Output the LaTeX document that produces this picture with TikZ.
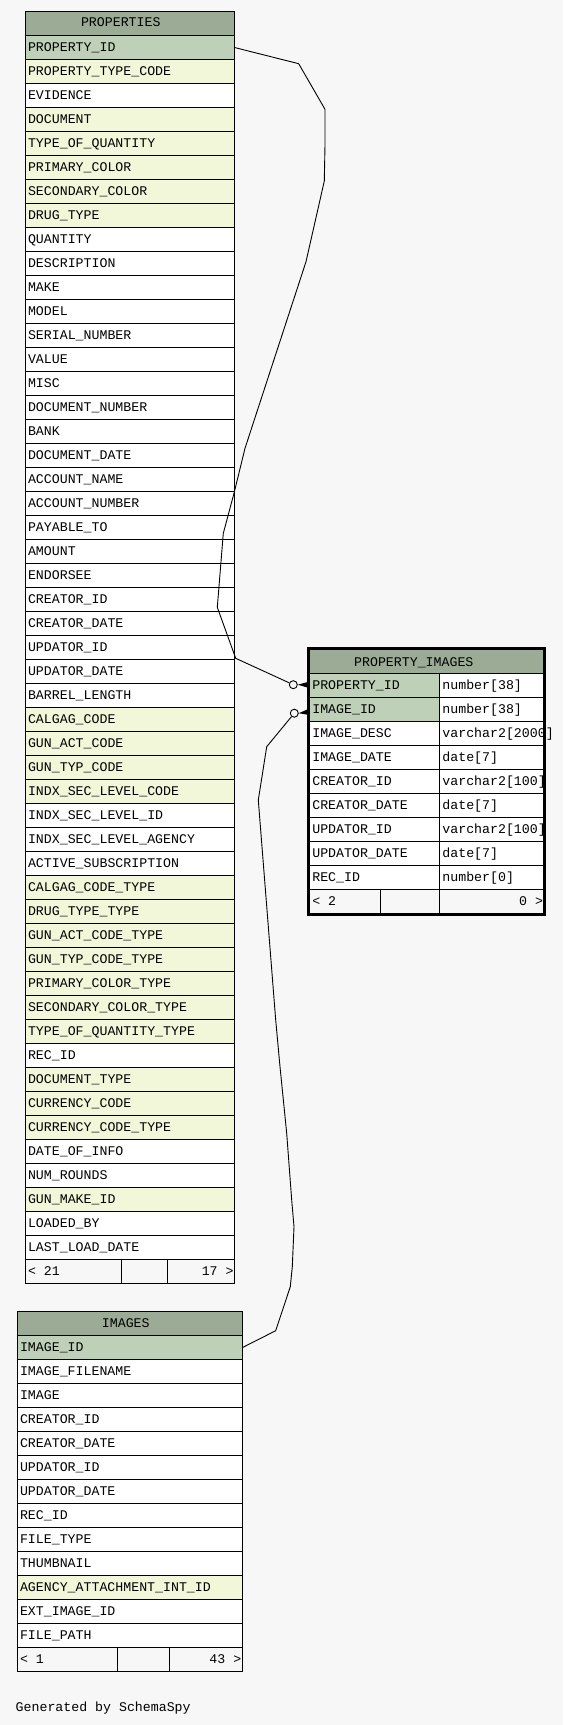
\documentclass[tikz,border=0pt]{standalone}
\usepackage{fontspec}
\newfontfamily\erdfont{Liberation Mono}
\usetikzlibrary{calc}
\definecolor{bg}{HTML}{F7F7F7}
\definecolor{hdr}{HTML}{9BAB96}
\definecolor{pk}{HTML}{BED1B8}
\definecolor{idx}{HTML}{F3F7DA}
\definecolor{w}{HTML}{FFFFFF}
\tikzset{
  cell/.style={draw=black, line width=1pt, minimum height=24pt, inner sep=0pt, outer sep=0pt, anchor=north west},
  txt/.style={anchor=base west, inner sep=0pt, outer sep=0pt, font=\erdfont\fontsize{13.25}{16}\selectfont},
  rtxt/.style={txt, anchor=base east},
  ctxt/.style={txt, anchor=base},
  edge/.style={draw=black, line width=0.9pt},
  odot/.style={circle, draw=black, line width=0.9pt, fill=bg, minimum size=8pt, inner sep=0pt},
}
\begin{document}
\begin{tikzpicture}[x=1pt,y=-1pt]
\useasboundingbox (0,0) rectangle (563,1725);
\fill[bg] (0,0) rectangle (563,1725);

% ---------------- PROPERTIES ----------------
\node[cell, fill=hdr, minimum width=209pt] (ph) at (25.5,11.5) {};
\node[ctxt] (pht) at (120.8,26.9) {PROPERTIES};
\foreach \t/\c [count=\i] in {
PROPERTY\_ID/pk, PROPERTY\_TYPE\_CODE/idx, EVIDENCE/w, DOCUMENT/idx, TYPE\_OF\_QUANTITY/idx,
PRIMARY\_COLOR/idx, SECONDARY\_COLOR/idx, DRUG\_TYPE/idx, QUANTITY/w, DESCRIPTION/w,
MAKE/w, MODEL/w, SERIAL\_NUMBER/w, VALUE/w, MISC/w, DOCUMENT\_NUMBER/w, BANK/w,
DOCUMENT\_DATE/w, ACCOUNT\_NAME/w, ACCOUNT\_NUMBER/w, PAYABLE\_TO/w, AMOUNT/w, ENDORSEE/w,
CREATOR\_ID/w, CREATOR\_DATE/w, UPDATOR\_ID/w, UPDATOR\_DATE/w, BARREL\_LENGTH/w,
CALGAG\_CODE/idx, GUN\_ACT\_CODE/idx, GUN\_TYP\_CODE/idx, INDX\_SEC\_LEVEL\_CODE/idx,
INDX\_SEC\_LEVEL\_ID/w, INDX\_SEC\_LEVEL\_AGENCY/w, ACTIVE\_SUBSCRIPTION/w,
CALGAG\_CODE\_TYPE/idx, DRUG\_TYPE\_TYPE/idx, GUN\_ACT\_CODE\_TYPE/idx, GUN\_TYP\_CODE\_TYPE/idx,
PRIMARY\_COLOR\_TYPE/idx, SECONDARY\_COLOR\_TYPE/idx, TYPE\_OF\_QUANTITY\_TYPE/idx, REC\_ID/w,
DOCUMENT\_TYPE/idx, CURRENCY\_CODE/idx, CURRENCY\_CODE\_TYPE/idx, DATE\_OF\_INFO/w,
NUM\_ROUNDS/w, GUN\_MAKE\_ID/idx, LOADED\_BY/w, LAST\_LOAD\_DATE/w}{
  \pgfmathsetmacro\yy{35.5+24*(\i-1)}
  \node[cell, fill=\c, minimum width=209pt] (p\i) at (25.5,\yy) {};
  \node[txt] (pt\i) at (28,\yy+15.8) {\t};
}
\node[cell, fill=bg, minimum width=96pt] (pf1) at (25.5,1259.5) {};
\node[cell, fill=bg, minimum width=46pt] (pf2) at (121.5,1259.5) {};
\node[cell, fill=bg, minimum width=67pt] (pf3) at (167.5,1259.5) {};
\node[txt] (pf1t) at (28,1275.3) {< 21};
\node[rtxt] (pf3t) at (233.6,1275.3) {17 >};

% ---------------- IMAGES ----------------
\node[cell, fill=hdr, minimum width=225pt] (ih) at (17.5,1311.5) {};
\node[ctxt] (iht) at (125.8,1327.4) {IMAGES};
\foreach \t/\c [count=\i] in {
IMAGE\_ID/pk, IMAGE\_FILENAME/w, IMAGE/w, CREATOR\_ID/w, CREATOR\_DATE/w, UPDATOR\_ID/w,
UPDATOR\_DATE/w, REC\_ID/w, FILE\_TYPE/w, THUMBNAIL/w, AGENCY\_ATTACHMENT\_INT\_ID/idx,
EXT\_IMAGE\_ID/w, FILE\_PATH/w}{
  \pgfmathsetmacro\yy{1335.5+24*(\i-1)}
  \node[cell, fill=\c, minimum width=225pt] (i\i) at (17.5,\yy) {};
  \node[txt] (it\i) at (20,\yy+15.8) {\t};
}
\node[cell, fill=bg, minimum width=100pt] (if1) at (17.5,1647.5) {};
\node[cell, fill=bg, minimum width=52pt] (if2) at (117.5,1647.5) {};
\node[cell, fill=bg, minimum width=73pt] (if3) at (169.5,1647.5) {};
\node[txt] (if1t) at (20,1663.3) {< 1};
\node[rtxt] (if3t) at (241.3,1663.3) {43 >};

% ---------------- PROPERTY_IMAGES ----------------
\node[cell, fill=hdr, minimum width=235.9pt, minimum height=25.5pt] (qh) at (308.3,648) {};
\node[ctxt] (qht) at (413.8,666) {PROPERTY\_IMAGES};
\foreach \t/\d/\c [count=\i] in {
PROPERTY\_ID/number[38]/pk, IMAGE\_ID/number[38]/pk, IMAGE\_DESC/varchar2[2000]/w,
IMAGE\_DATE/date[7]/w, CREATOR\_ID/varchar2[100]/w, CREATOR\_DATE/date[7]/w,
UPDATOR\_ID/varchar2[100]/w, UPDATOR\_DATE/date[7]/w, REC\_ID/number[0]/w}{
  \pgfmathsetmacro\yy{673.5+24*(\i-1)}
  \node[cell, fill=\c, minimum width=131.2pt] (q\i) at (308.3,\yy) {};
  \node[cell, fill=w, minimum width=104.7pt] (r\i) at (439.5,\yy) {};
  \node[txt] (qt\i) at (312.3,\yy+16.2) {\t};
  \node[txt] (rt\i) at (442.4,\yy+16.2) {\d};
}
\node[cell, fill=bg, minimum width=72.2pt] (qf1) at (308.3,889.5) {};
\node[cell, fill=bg, minimum width=59pt] (qf2) at (380.5,889.5) {};
\node[cell, fill=bg, minimum width=104.7pt] (qf3) at (439.5,889.5) {};
\node[txt] (qf1t) at (312.3,905.5) {< 2};
\node[rtxt] (qf3t) at (543,905.5) {0 >};
\draw[line width=3pt] (308.3,648) rectangle (544.2,914.3);

% ---------------- relationships ----------------
\node[odot] (c1) at (293.3,684.7) {};
\node[odot] (c2) at (294.3,713.2) {};
\fill (c1.east) -- (307,682.2) -- (307,687.4) -- cycle;
\fill (c2.east) -- (307,709.6) -- (307,714.6) -- cycle;

\draw[edge] (p1.east) -- (298.7,63.7) -- (325,109.3) -- (325,145) -- (324.3,181)
  -- (306,261.7) -- (245,448.3) -- (234,493.3) -- (223.3,533.3) -- (217.3,607.3)
  -- (235.7,658.3) -- (c1);
\draw[edge] (i1.east) -- (275.7,1330.7) -- (290.3,1286.7) -- (292.3,1266.7)
  -- (294,1226.7) -- (291.7,1200) -- (286.7,1133.3) -- (280,1066.7) -- (275.7,1020)
  -- (258.3,800) -- (266.7,746.7) -- (c2);

% ---------------- footer ----------------
\node[txt] (gen) at (15.7,1711) {Generated by SchemaSpy};
\end{tikzpicture}
\end{document}
